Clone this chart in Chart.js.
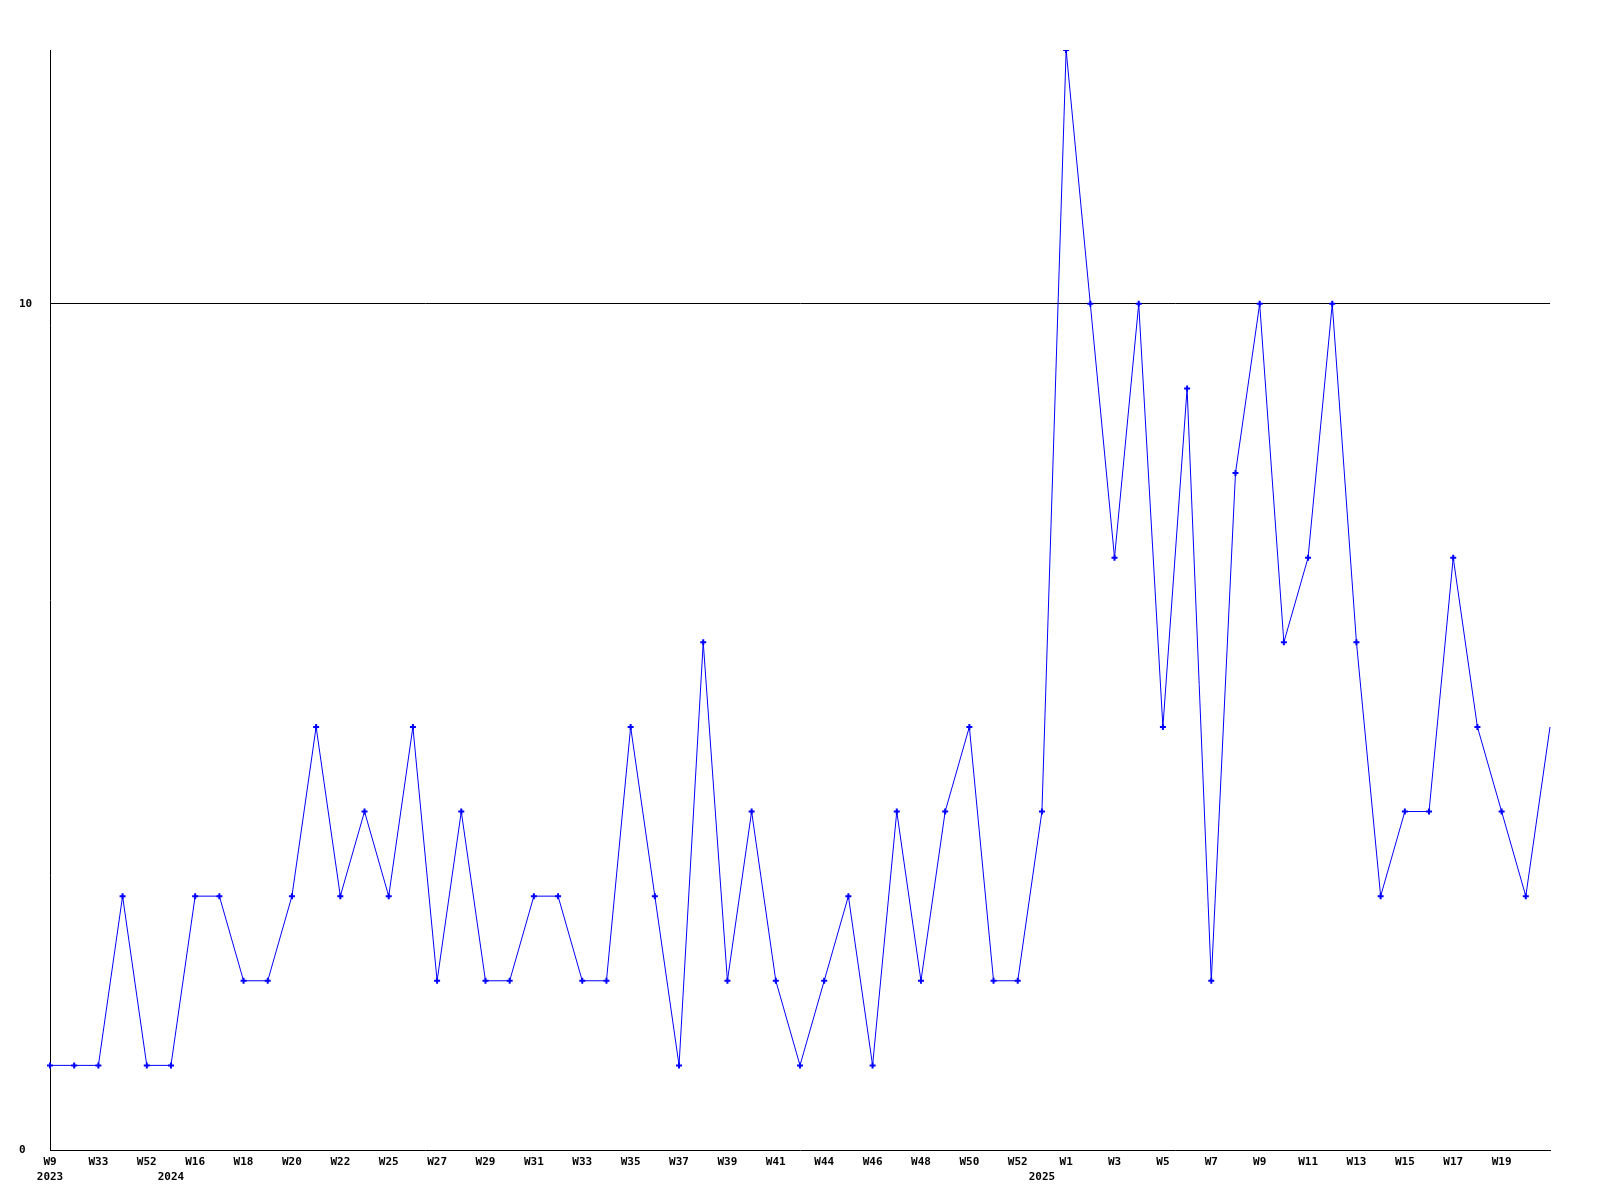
<!DOCTYPE html>
<html>
<head>
<meta charset="utf-8">
<script src="https://cdn.jsdelivr.net/npm/chart.js@4/dist/chart.umd.min.js"></script>
<style>
    html, body { margin: 0; padding: 0; background: #fff; }
    canvas { display: block; }
</style>
</head>
<body>
<canvas id="chart" width="1600" height="1200"></canvas>
<script>
// 週標籤（只有每隔一個點標示）
const weekLabels = [
    'W9', '', 'W33', '', 'W52', '', 'W16', '', 'W18', '',
    'W20', '', 'W22', '', 'W25', '', 'W27', '', 'W29', '',
    'W31', '', 'W33', '', 'W35', '', 'W37', '', 'W39', '',
    'W41', '', 'W44', '', 'W46', '', 'W48', '', 'W50', '',
    'W52', '', 'W1', '', 'W3', '', 'W5', '', 'W7', '',
    'W9', '', 'W11', '', 'W13', '', 'W15', '', 'W17', '',
    'W19', '', ''
];

// 年份標籤位置
const yearIndex = [0, 5, 41];
const yearNames = ['2023', '2024', '2025'];

// 每週數值
const values = [
    1, 1, 1, 3, 1, 1, 3, 3, 2, 2,
    3, 5, 3, 4, 3, 5, 2, 4, 2, 2,
    3, 3, 2, 2, 5, 3, 1, 6, 2, 4,
    2, 1, 2, 3, 1, 4, 2, 4, 5, 2,
    2, 4, 13, 10, 7, 10, 5, 9, 2, 8,
    10, 6, 7, 10, 6, 3, 4, 4, 7, 5,
    4, 3, 5
];

const yTicks = [0, 10];
const yMax = 13;

const labels = weekLabels.map((w, i) => {
    const k = yearIndex.indexOf(i);
    return k >= 0 ? [w, yearNames[k]] : w;
});

const tickFont = { family: 'DejaVu Sans Mono', size: 11, weight: 'bold', lineHeight: 1.36 };

new Chart(document.getElementById('chart'), {
    type: 'line',
    data: {
        labels: labels,
        datasets: [{
            data: values,
            borderColor: '#0000ff',
            backgroundColor: '#0000ff',
            borderWidth: 1,
            pointStyle: 'cross',
            pointRadius: ctx => ctx.dataIndex === values.length - 1 ? 0 : 3,
            pointBorderWidth: 2,
            tension: 0,
            fill: false
        }]
    },
    options: {
        responsive: false,
        animation: false,
        layout: { padding: { left: 19, right: 50, top: 50, bottom: 0 } },
        plugins: {
            legend: { display: false },
            tooltip: { enabled: false }
        },
        scales: {
            x: {
                type: 'category',
                offset: false,
                afterFit: axis => { axis.height = 50; },
                grid: { display: false, drawTicks: false },
                border: { display: true, color: '#000', width: 1 },
                ticks: {
                    autoSkip: false,
                    maxRotation: 0,
                    padding: 5,
                    color: '#000',
                    font: tickFont
                }
            },
            y: {
                min: 0,
                max: yMax,
                afterFit: axis => { axis.width = 31; },
                afterBuildTicks: axis => { axis.ticks = yTicks.map(v => ({ value: v })); },
                grid: {
                    drawTicks: false,
                    color: ctx => ctx.tick && ctx.tick.value === 10 ? '#000' : 'rgba(0,0,0,0)',
                    lineWidth: 1
                },
                border: { display: true, color: '#000', width: 1 },
                ticks: {
                    crossAlign: 'far',
                    padding: 0,
                    color: '#000',
                    font: tickFont
                }
            }
        }
    }
});
</script>
</body>
</html>
